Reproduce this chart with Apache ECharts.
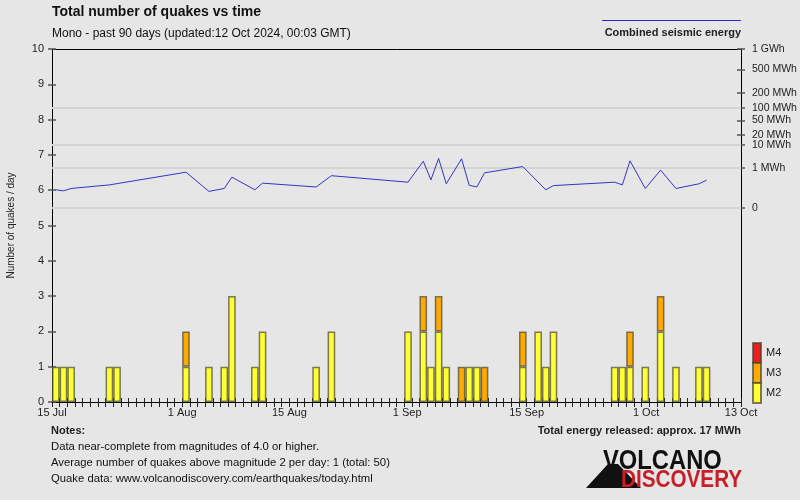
<!DOCTYPE html>
<html><head><meta charset="utf-8">
<script src="https://cdn.jsdelivr.net/npm/echarts@6/dist/echarts.min.js"></script>
<style>html,body{margin:0;padding:0;background:#e6e6e6}#c{width:800px;height:500px}</style>
</head><body><div id="c"></div>
<script>
// ---- data ----
const startDate = '2024-07-15';
const dayCount = 90;
const xLabelDays = [0, 17, 31, 46.4, 62, 77.6, 90];
const xLabelTexts = ['15 Jul', '1 Aug', '15 Aug', '1 Sep', '15 Sep', '1 Oct', '13 Oct'];
const quakeDays = [0,1,2,7,8,17,20,22,23,26,27,34,36,46,48,49,50,51,53,54,55,56,61,63,64,65,73,74,75,77,79,81,84,85];
const m2Counts  = [1,1,1,1,1,1,1,1,3,1, 2,1,2,2,2,1,2,1,0,1, 1,0,1,2,1,2,1,1,1,1, 2,1,1,1];
const m3Counts  = [0,0,0,0,0,1,0,0,0,0, 0,0,0,0,1,0,1,0,1,0, 0,1,1,0,0,0,0,0,1,0, 1,0,0,0];
const m4Counts  = [0,0,0,0,0,0,0,0,0,0, 0,0,0,0,0,0,0,0,0,0, 0,0,0,0,0,0,0,0,0,0, 0,0,0,0];
const energyDays = [0,1,2,7,17,20,22,23,26,27,34,36,46,48,49,50,51,53,54,55,56,61,64,65,73,74,75,77,79,81,84,85];
const energyMWh  = [0.019,0.014,0.027,0.063,0.57,0.012,0.027,0.27,0.019,0.091,0.039,0.34,0.11,2.17,0.17,2.91,0.079,2.81,0.058,0.039,0.52,1.19,0.019,0.054,0.11,0.063,2.26,0.027,0.76,0.027,0.079,0.16];
const energyTickMWh = [1000, 500, 200, 100, 50, 20, 10, 1, 0];
const energyTickTexts = ['1 GWh', '500 MWh', '200 MWh', '100 MWh', '50 MWh', '20 MWh', '10 MWh', '1 MWh', '0'];
const energyGridMWh = [100, 10, 1, 0];

// ---- helpers ----
const toT = e => Math.pow(e / 1000, 0.2);   // energy scale (fifth root)
const tMin = -5.5 / 4.5;
const categories = [];
for (let i = 0; i < dayCount; i++) {
  const d = new Date(startDate + 'T00:00:00Z'); d.setUTCDate(d.getUTCDate() + i);
  categories.push(d.toISOString().slice(0, 10));
}
function daily(counts) {
  const arr = new Array(dayCount).fill(null);
  quakeDays.forEach((d, i) => { if (counts[i] > 0) arr[d] = counts[i]; });
  return arr;
}
const dayTicks = []; for (let i = 0; i <= dayCount; i++) dayTicks.push(i);
const energyTickT = energyTickMWh.map(toT);
const FONT = '"Liberation Sans", Arial, sans-serif';
const barBorder = { borderColor: 'rgba(70,70,50,0.7)', borderWidth: 1.5 };

const chart = echarts.init(document.getElementById('c'), null, { renderer: 'canvas', width: 800, height: 500 });
chart.setOption({
  backgroundColor: '#e6e6e6',
  animation: false,
  textStyle: { fontFamily: FONT },
  grid: { left: 52, right: 59, top: 49, bottom: 98, containLabel: false, outerBoundsMode: 'none' },
  legend: {
    data: ['M4', 'M3', 'M2'], orient: 'vertical', left: 752, top: 342, padding: 0,
    itemWidth: 8, itemHeight: 20, itemGap: -2, icon: 'rect',
    textStyle: { fontSize: 11, color: '#222', fontFamily: FONT }, selectedMode: false
  },
  xAxis: [
    { type: 'value', min: 0, max: dayCount, position: 'bottom', splitLine: { show: false },
      axisLine: { onZero: false, lineStyle: { color: '#000', width: 1 } },
      axisTick: { customValues: dayTicks, length: 5, lineStyle: { color: '#222' } },
      axisLabel: { customValues: xLabelDays, margin: 5, fontSize: 11, color: '#222',
        formatter: v => { const i = xLabelDays.findIndex(d => Math.abs(d - v) < 1e-6); return i >= 0 ? xLabelTexts[i] : ''; } } },
    { type: 'category', data: categories, position: 'top', boundaryGap: true,
      axisLine: { onZero: false, lineStyle: { color: '#000', width: 1 } }, axisTick: { show: false }, axisLabel: { show: false } },
    { type: 'value', min: 0, max: dayCount, position: 'bottom', splitLine: { show: false },
      axisLine: { show: false, onZero: false }, axisLabel: { show: false },
      axisTick: { customValues: dayTicks, inside: true, length: 4, lineStyle: { color: '#222' } } }
  ],
  yAxis: [
    { type: 'value', min: 0, max: 10, interval: 1, position: 'left', splitLine: { show: false },
      axisLine: { show: true, onZero: false, lineStyle: { color: '#000', width: 1 } },
      axisTick: { show: true, length: 4, lineStyle: { color: '#555', width: 1.5 } },
      axisLabel: { margin: 8, fontSize: 11, color: '#222' },
      name: 'Number of quakes / day', nameLocation: 'middle', nameGap: 36, nameRotate: 90,
      nameTextStyle: { fontSize: 10, color: '#222' } },
    { type: 'value', min: tMin, max: 1, position: 'right', splitLine: { show: false },
      axisLine: { show: true, onZero: false, lineStyle: { color: '#000', width: 1 } },
      axisTick: { show: true, customValues: energyTickT, length: 4, lineStyle: { color: '#555', width: 1.5 } },
      axisLabel: { customValues: energyTickT, margin: 11, fontSize: 10.5, color: '#222',
        formatter: v => { const i = energyTickT.findIndex(t => Math.abs(t - v) < 1e-6); return i >= 0 ? energyTickTexts[i] : ''; } } },
    { type: 'value', min: 0, max: 10, interval: 1, position: 'left', splitLine: { show: false },
      axisLine: { show: false, onZero: false }, axisLabel: { show: false },
      axisTick: { show: true, inside: true, length: 4, lineStyle: { color: '#555', width: 1.5 } } },
    { type: 'value', min: tMin, max: 1, position: 'right', splitLine: { show: false },
      axisLine: { show: false, onZero: false }, axisLabel: { show: false },
      axisTick: { show: true, inside: true, customValues: energyTickT, length: 4, lineStyle: { color: '#555', width: 1.5 } } }
  ],
  series: [
    { name: 'M2', type: 'bar', stack: 'q', xAxisIndex: 1, yAxisIndex: 0, barWidth: '100%', barCategoryGap: 0,
      data: daily(m2Counts), itemStyle: Object.assign({ color: '#ffff33' }, barBorder) },
    { name: 'M3', type: 'bar', stack: 'q', xAxisIndex: 1, yAxisIndex: 0, barWidth: '100%', barCategoryGap: 0,
      data: daily(m3Counts), itemStyle: Object.assign({ color: '#ffaa00' }, barBorder) },
    { name: 'M4', type: 'bar', stack: 'q', xAxisIndex: 1, yAxisIndex: 0, barWidth: '100%', barCategoryGap: 0,
      data: daily(m4Counts), itemStyle: Object.assign({ color: '#ee1c1c' }, barBorder) },
    { name: 'Combined seismic energy', type: 'line', xAxisIndex: 0, yAxisIndex: 1,
      data: energyDays.map((d, i) => [d + 0.5, toT(energyMWh[i])]),
      showSymbol: false, symbol: 'none', lineStyle: { color: '#3434c8', width: 1 }, z: 5,
      markLine: { silent: true, symbol: 'none', label: { show: false }, animation: false,
        lineStyle: { color: '#d3d3d3', width: 2, type: 'solid' },
        data: energyGridMWh.map(e => ({ yAxis: toT(e) })) } }
  ],
  graphic: [
    { type: 'text', left: 52, top: 5, style: { text: 'Total number of quakes vs time', font: 'bold 14px ' + FONT, fill: '#111' } },
    { type: 'text', left: 52, top: 28, style: { text: 'Mono - past 90 days (updated:12 Oct 2024, 00:03 GMT)', font: '12px ' + FONT, fill: '#111' } },
    { type: 'line', shape: { x1: 602, y1: 20.5, x2: 741, y2: 20.5 }, style: { stroke: '#2a2ad0', lineWidth: 1 } },
    { type: 'text', right: 59, top: 27, style: { text: 'Combined seismic energy', font: 'bold 11px ' + FONT, fill: '#222' } },
    { type: 'text', left: 51, top: 425, style: { text: 'Notes:', font: 'bold 11px ' + FONT, fill: '#222' } },
    { type: 'text', left: 51, top: 441, style: { text: 'Data near-complete from magnitudes of 4.0 or higher.', font: '11.3px ' + FONT, fill: '#111' } },
    { type: 'text', left: 51, top: 457, style: { text: 'Average number of quakes above magnitude 2 per day: 1 (total: 50)', font: '11.3px ' + FONT, fill: '#111' } },
    { type: 'text', left: 51, top: 473, style: { text: 'Quake data: www.volcanodiscovery.com/earthquakes/today.html', font: '11.3px ' + FONT, fill: '#111' } },
    { type: 'text', right: 59, top: 425, style: { text: 'Total energy released: approx. 17 MWh', font: 'bold 11px ' + FONT, fill: '#222' } },
    { type: 'polygon', shape: { points: [[586, 488], [608, 464], [618, 464], [641, 488]] }, style: { fill: '#111' } },
    { type: 'text', x: 603, y: 448, scaleX: 0.88, style: { text: 'VOLCANO', font: 'bold 27px ' + FONT, fill: '#111' } },
    { type: 'text', x: 621, y: 469, scaleX: 0.9, style: { text: 'DISCOVERY', font: 'bold 23px ' + FONT, fill: '#c81e28' } }
  ]
});
</script>
</body></html>
